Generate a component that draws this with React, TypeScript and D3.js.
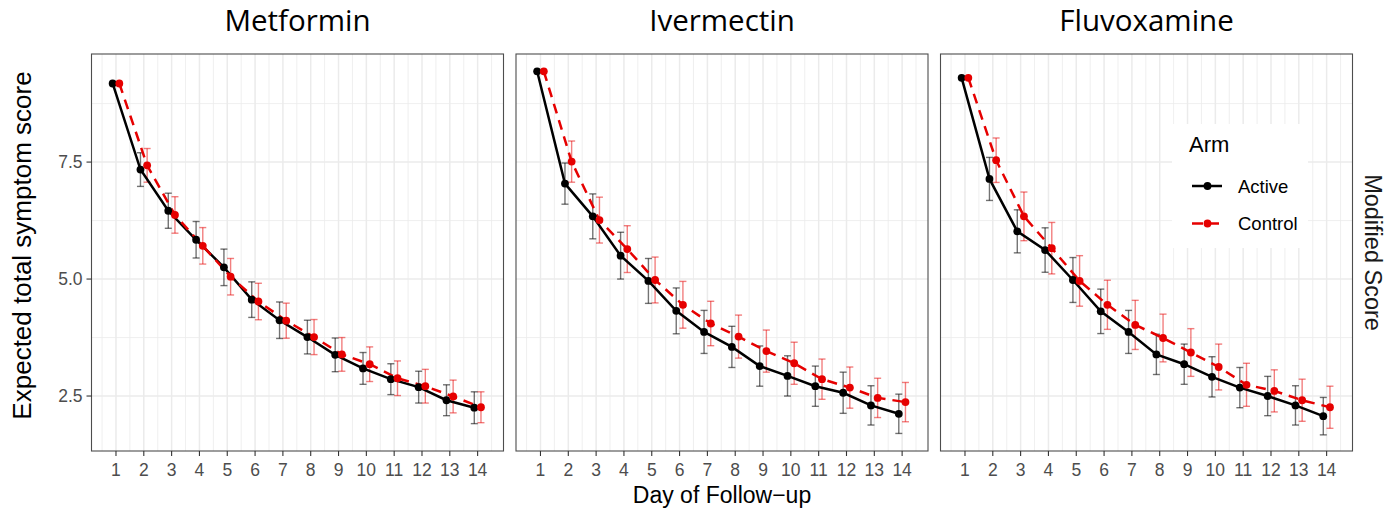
import React from "react";
import * as d3 from "d3";

// ---------------- data ----------------
const drugs = ["Metformin", "Ivermectin", "Fluvoxamine"];
const days = [1, 2, 3, 4, 5, 6, 7, 8, 9, 10, 11, 12, 13, 14];
const yTicks = [2.5, 5.0, 7.5];
const yMinorTicks = [3.75, 6.25, 8.75];
const arms = ["Active", "Control"];

const metforminActive = [9.18, 7.34, 6.46, 5.84, 5.25, 4.56, 4.12, 3.76, 3.38, 3.09, 2.86, 2.69, 2.41, 2.25];
const metforminActiveErr = [0, 0.36, 0.375, 0.39, 0.39, 0.38, 0.39, 0.36, 0.36, 0.34, 0.33, 0.34, 0.33, 0.34];
const metforminControl = [9.18, 7.43, 6.37, 5.71, 5.05, 4.52, 4.11, 3.76, 3.39, 3.18, 2.88, 2.71, 2.49, 2.26];
const metforminControlErr = [0, 0.36, 0.39, 0.39, 0.39, 0.39, 0.375, 0.375, 0.36, 0.37, 0.37, 0.36, 0.35, 0.33];

const ivermectinActive = [9.44, 7.04, 6.34, 5.5, 4.96, 4.32, 3.87, 3.55, 3.14, 2.93, 2.71, 2.57, 2.3, 2.12];
const ivermectinActiveErr = [0, 0.44, 0.48, 0.5, 0.48, 0.49, 0.46, 0.44, 0.43, 0.43, 0.43, 0.44, 0.42, 0.42];
const ivermectinControl = [9.44, 7.51, 6.26, 5.64, 4.98, 4.45, 4.05, 3.77, 3.46, 3.2, 2.86, 2.68, 2.46, 2.37];
const ivermectinControlErr = [0, 0.44, 0.49, 0.5, 0.49, 0.5, 0.475, 0.46, 0.45, 0.45, 0.43, 0.44, 0.42, 0.42];

const fluvoxamineActive = [9.3, 7.14, 6.02, 5.62, 4.98, 4.31, 3.87, 3.39, 3.18, 2.91, 2.68, 2.5, 2.3, 2.07];
const fluvoxamineActiveErr = [0, 0.46, 0.46, 0.475, 0.48, 0.475, 0.46, 0.43, 0.43, 0.43, 0.43, 0.42, 0.42, 0.4];
const fluvoxamineControl = [9.3, 7.54, 6.34, 5.66, 4.96, 4.45, 4.02, 3.74, 3.43, 3.12, 2.74, 2.61, 2.41, 2.26];
const fluvoxamineControlErr = [0, 0.475, 0.52, 0.55, 0.54, 0.525, 0.525, 0.51, 0.51, 0.49, 0.46, 0.45, 0.45, 0.45];

const panelSeries = [
  { active: metforminActive, activeErr: metforminActiveErr, control: metforminControl, controlErr: metforminControlErr },
  { active: ivermectinActive, activeErr: ivermectinActiveErr, control: ivermectinControl, controlErr: ivermectinControlErr },
  { active: fluvoxamineActive, activeErr: fluvoxamineActiveErr, control: fluvoxamineControl, controlErr: fluvoxamineControlErr },
];

// ---------------- layout ----------------
const W = 1394;
const H = 510;
const panelX0 = 91.5;
const panelW = 412;
const panelGap = 12.5;
const top = 54;
const bottom = 451;

const SANS = "'Liberation Sans', Arial, Helvetica, sans-serif";
const TITLE_FONT = "'Open Sans', 'Liberation Sans', sans-serif";
const RED = "#e60000";
const dodge = 0.12;

const y = d3.scaleLinear().domain([1.325, 9.81]).range([bottom, top]);
const xMinor = d3.range(0.5, 15, 1);

function Panel({ idx }: { idx: number }) {
  const x0 = panelX0 + idx * (panelW + panelGap);
  const x = d3.scaleLinear().domain([0.12, 14.93]).range([x0, x0 + panelW]);
  const s = panelSeries[idx];
  const series = [
    { name: arms[0], vals: s.active, err: s.activeErr, off: -dodge, color: "#000", errColor: "rgba(0,0,0,0.55)", dash: undefined as string | undefined },
    { name: arms[1], vals: s.control, err: s.controlErr, off: dodge, color: RED, errColor: "rgba(230,0,0,0.5)", dash: "10,7" },
  ];
  const line = (vals: number[], off: number) =>
    d3.line<number>().x((_, i) => x(days[i] + off)).y((v) => y(v))(vals) || "";
  const capHalf = 3.5;
  return (
    <g>
      <rect x={x0} y={top} width={panelW} height={bottom - top} fill="#fff" />
      {xMinor.filter((v) => x(v) > x0 && x(v) < x0 + panelW).map((v) => (
        <line key={"xm" + v} x1={x(v)} x2={x(v)} y1={top} y2={bottom} stroke="#ebebeb" strokeWidth={0.8} />
      ))}
      {yMinorTicks.map((v) => (
        <line key={"ym" + v} x1={x0} x2={x0 + panelW} y1={y(v)} y2={y(v)} stroke="#ebebeb" strokeWidth={0.8} />
      ))}
      {days.map((d) => (
        <line key={"xg" + d} x1={x(d)} x2={x(d)} y1={top} y2={bottom} stroke="#ebebeb" strokeWidth={1.5} />
      ))}
      {yTicks.map((v) => (
        <line key={"yg" + v} x1={x0} x2={x0 + panelW} y1={y(v)} y2={y(v)} stroke="#ebebeb" strokeWidth={1.5} />
      ))}
      {/* error bars */}
      {series.map((sr) =>
        sr.vals.map((v, i) => {
          const e = sr.err[i];
          if (!e) return null;
          const cx = x(days[i] + sr.off);
          return (
            <g key={sr.name + "e" + i} stroke={sr.errColor} strokeWidth={1.4} fill="none">
              <line x1={cx} x2={cx} y1={y(v - e)} y2={y(v + e)} />
              <line x1={cx - capHalf} x2={cx + capHalf} y1={y(v - e)} y2={y(v - e)} />
              <line x1={cx - capHalf} x2={cx + capHalf} y1={y(v + e)} y2={y(v + e)} />
            </g>
          );
        })
      )}
      {/* lines */}
      {series.map((sr) => (
        <path key={sr.name + "l"} d={line(sr.vals, sr.off)} fill="none" stroke={sr.color} strokeWidth={2.5} strokeDasharray={sr.dash} />
      ))}
      {/* points */}
      {series.map((sr) =>
        sr.vals.map((v, i) => (
          <circle key={sr.name + "p" + i} cx={x(days[i] + sr.off)} cy={y(v)} r={3.9} fill={sr.color} />
        ))
      )}
      <rect x={x0} y={top} width={panelW} height={bottom - top} fill="none" stroke="#4d4d4d" strokeWidth={1.1} />
      {/* x axis */}
      {days.map((d) => (
        <g key={"xt" + d}>
          <line x1={x(d)} x2={x(d)} y1={bottom} y2={bottom + 5} stroke="#333" strokeWidth={1.1} />
          <text x={x(d)} y={bottom + 25} textAnchor="middle" fontFamily={SANS} fontSize={17.5} fill="#4d4d4d">
            {d}
          </text>
        </g>
      ))}
      <text x={x0 + panelW / 2} y={31} textAnchor="middle" fontFamily={TITLE_FONT} fontSize={29.5} fill="#000">
        {drugs[idx]}
      </text>
    </g>
  );
}

export default function App() {
  const legendX = 1172;
  const legendY = 124;
  return (
    <svg width={W} height={H} style={{ position: "absolute", left: 0, top: 0, background: "#fff" }}>
      <rect x={0} y={0} width={W} height={H} fill="#fff" />
      {drugs.map((_, i) => (
        <Panel key={i} idx={i} />
      ))}
      {/* y axis on first panel */}
      {yTicks.map((v) => (
        <g key={"yt" + v}>
          <line x1={panelX0 - 5} x2={panelX0} y1={y(v)} y2={y(v)} stroke="#333" strokeWidth={1.1} />
          <text x={panelX0 - 9} y={y(v)} dy="0.35em" textAnchor="end" fontFamily={SANS} fontSize={17.5} fill="#4d4d4d">
            {v.toFixed(1)}
          </text>
        </g>
      ))}
      <text
        transform={`translate(31, ${(top + bottom) / 2 - 7}) rotate(-90)`}
        textAnchor="middle"
        fontFamily={SANS}
        fontSize={26}
        fill="#000"
      >
        Expected total symptom score
      </text>
      <text x={(panelX0 + panelX0 + 3 * panelW + 2 * panelGap) / 2} y={503} textAnchor="middle" fontFamily={SANS} fontSize={23} fill="#000">
        Day of Follow−up
      </text>
      <text
        transform={`translate(1365, ${(top + bottom) / 2}) rotate(90)`}
        textAnchor="middle"
        fontFamily={SANS}
        fontSize={23.5}
        fill="#1a1a1a"
      >
        Modified Score
      </text>
      {/* legend */}
      <g>
        <rect x={legendX} y={legendY} width={136} height={124} fill="#fff" />
        <text x={1189} y={152} fontFamily={SANS} fontSize={22} fill="#000">
          {"Arm"}
        </text>
        {arms.map((a, i) => {
          const ky = 186 + i * 37.5;
          const col = i === 0 ? "#000" : RED;
          return (
            <g key={a}>
              <line x1={1192} x2={1222} y1={ky} y2={ky} stroke={col} strokeWidth={2.5} strokeDasharray={i === 0 ? undefined : "11,5"} />
              <circle cx={1207.5} cy={ky} r={3.9} fill={col} />
              <text x={1238} y={ky} dy="0.36em" fontFamily={SANS} fontSize={18.5} fill="#000">
                {a}
              </text>
            </g>
          );
        })}
      </g>
    </svg>
  );
}
